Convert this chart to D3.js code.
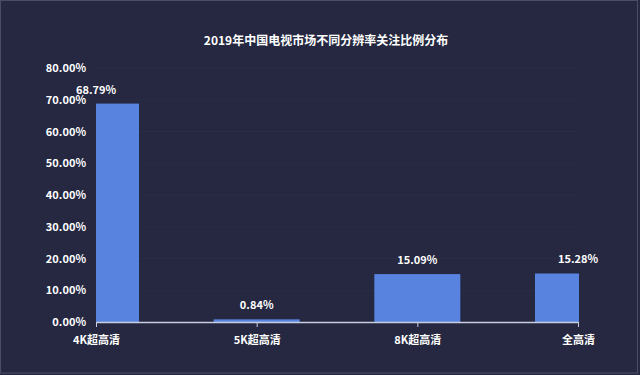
<!DOCTYPE html>
<html>
<head>
<meta charset="utf-8">
<script src="https://cdn.jsdelivr.net/npm/d3@7"></script>
<style>
    html, body { margin: 0; padding: 0; background: #252840; }
    svg { display: block; font-family: "Noto Sans CJK SC", "Noto Sans", sans-serif; }
</style>
</head>
<body>
<div class="graph"></div>
<script>
const chartTitle = '2019年中国电视市场不同分辨率关注比例分布';
const categories = ['4K超高清', '5K超高清', '8K超高清', '全高清'];
const shares = [68.79, 0.84, 15.09, 15.28];
const yTicks = [0, 10, 20, 30, 40, 50, 60, 70, 80];

const dim = {
    w: 640,
    h: 375,
    left: 96,
    right: 579,
    top: 68,
    bottom: 322
}

const svg = d3.select('.graph')
    .append('svg')
    .attr('width', dim.w)
    .attr('height', dim.h);

svg.append('rect')
    .attr('x', 0.5).attr('y', 0.5)
    .attr('width', dim.w - 3).attr('height', dim.h - 2.5)
    .attr('fill', '#252840')
    .attr('stroke', '#4a4d66');

const xScale = d3.scalePoint()
    .domain(categories)
    .range([dim.left, dim.right - 1]);

const yScale = d3.scaleLinear()
    .domain([0, 80])
    .range([dim.bottom, dim.top]);

const barW = 86;

// title
svg.append('text')
    .attr('x', 326)
    .attr('y', 45)
    .attr('text-anchor', 'middle')
    .attr('fill', '#ffffff')
    .style('font-size', '12px')
    .style('font-weight', 'bold')
    .text(chartTitle);

// faint grid
svg.append('g')
    .selectAll('line')
    .data(yTicks.slice(1))
    .enter()
    .append('line')
    .attr('x1', dim.left).attr('x2', dim.right)
    .attr('y1', d => yScale(d)).attr('y2', d => yScale(d))
    .attr('stroke', 'rgba(255,255,255,0.025)');

// y axis (labels only)
const yAxis = d3.axisLeft(yScale)
    .tickValues(yTicks)
    .tickSize(0)
    .tickPadding(10)
    .tickFormat(d => d.toFixed(2) + '%');
const gy = svg.append('g')
    .attr('transform', `translate(${dim.left},0)`)
    .call(yAxis);
gy.select('.domain').remove();
gy.selectAll('text')
    .attr('fill', '#ffffff')
    .style('font-size', '11px')
    .style('font-weight', 'bold')
    .style('font-family', '"Noto Sans CJK SC", sans-serif');

// bars, clipped to the plot area
svg.append('clipPath')
    .attr('id', 'plot-clip')
    .append('rect')
    .attr('x', dim.left).attr('y', 0)
    .attr('width', dim.right - dim.left).attr('height', dim.bottom);

svg.append('g')
    .attr('clip-path', 'url(#plot-clip)')
    .selectAll('rect')
    .data(shares)
    .enter()
    .append('rect')
    .attr('x', (d, i) => xScale(categories[i]) - barW / 2)
    .attr('y', d => yScale(d))
    .attr('width', barW)
    .attr('height', d => dim.bottom - yScale(d))
    .attr('fill', '#5884e0');

// x axis
const xAxis = d3.axisBottom(xScale)
    .tickSize(5)
    .tickSizeOuter(0)
    .tickPadding(9);
const gx = svg.append('g')
    .attr('transform', `translate(0,${dim.bottom})`)
    .call(xAxis);
gx.select('.domain').attr('stroke', '#c9cde0').attr('stroke-width', 1.5);
gx.selectAll('.tick line').attr('stroke', '#c9cde0');
gx.selectAll('text')
    .attr('fill', '#ffffff')
    .style('font-size', '11px')
    .style('font-weight', 'bold')
    .style('font-family', '"Noto Sans CJK SC", sans-serif');

// value labels
svg.append('g')
    .selectAll('text')
    .data(shares)
    .enter()
    .append('text')
    .attr('x', (d, i) => xScale(categories[i]))
    .attr('y', d => yScale(d) - 10)
    .attr('text-anchor', 'middle')
    .attr('fill', '#ffffff')
    .style('font-size', '11px')
    .style('font-weight', 'bold')
    .text(d => d.toFixed(2) + '%');
</script>
</body>
</html>
